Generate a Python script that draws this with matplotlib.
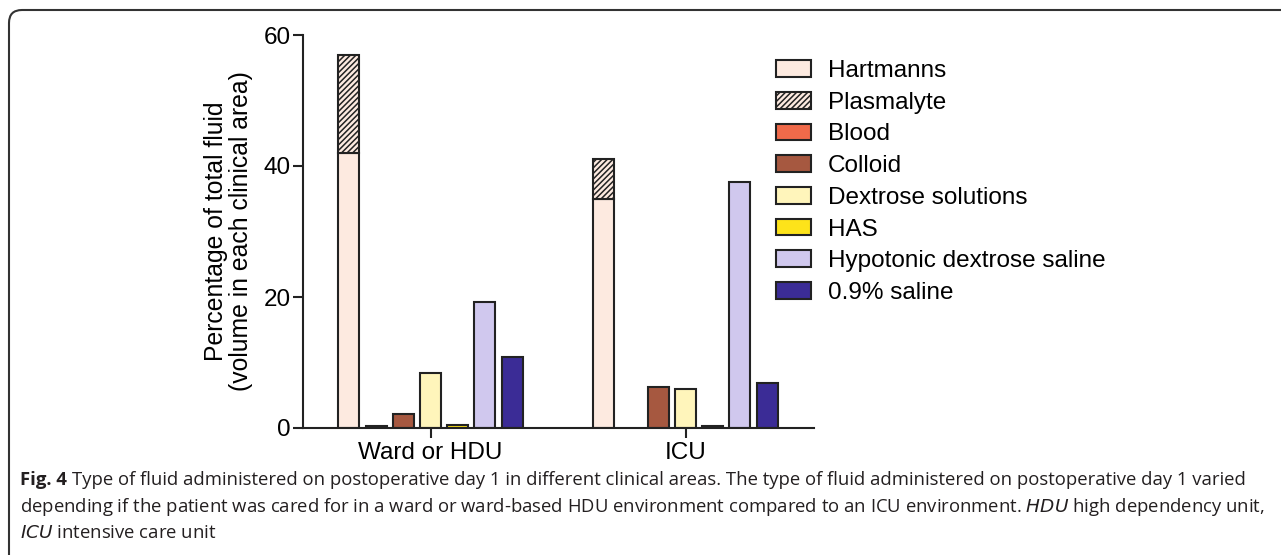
import matplotlib.pyplot as plt
from matplotlib.patches import FancyBboxPatch
import numpy as np

# data (% of total fluid volume)
areas = ["Ward or HDU", "ICU"]
fluids = ["Hartmanns", "Plasmalyte", "Blood", "Colloid", "Dextrose solutions",
          "HAS", "Hypotonic dextrose saline", "0.9% saline"]
hartmanns = [42.0, 35.0]
plasmalyte = [15.0, 6.0]
blood = [0.3, 0.0]
colloid = [2.1, 6.3]
dextrose = [8.4, 5.9]
has = [0.45, 0.3]
hypotonic = [19.3, 37.5]
saline = [10.9, 6.8]

colors = ["#fdeae0", "#fdeae0", "#f06a4a", "#a65840", "#fff5bb",
          "#fde31a", "#d0c8ee", "#3b2c96"]

plt.rcParams["font.family"] = ["Liberation Sans", "DejaVu Sans"]
plt.rcParams["hatch.linewidth"] = 1.1

fig = plt.figure(figsize=(12.81, 5.55), dpi=100)

# rounded frame of the figure panel (runs off the right and bottom edges)
frame = FancyBboxPatch((0.09, -0.5), 14.0, 5.95, boxstyle="round,pad=0,rounding_size=0.13",
                       transform=fig.dpi_scale_trans, facecolor="none",
                       edgecolor="#333333", linewidth=1.5, zorder=0)
fig.patches.append(frame)

ax = fig.add_axes([303 / 1281, 1 - 428 / 555, (814 - 303) / 1281, (428 - 35) / 555])

centers = np.array([0.0, 9.375])
w = 0.77
ec = "#222222"
lw = 1.5

ax.bar(centers - 3, hartmanns, w, color=colors[0], edgecolor=ec, linewidth=lw, label=fluids[0])
ax.bar(centers - 3, plasmalyte, w, bottom=hartmanns, color=colors[1], edgecolor=ec,
       linewidth=lw, hatch="//////", label=fluids[1])
series = [blood, colloid, dextrose, has, hypotonic, saline]
for i, vals in enumerate(series):
    vals = np.array(vals)
    pos = centers - 2 + i
    mask = vals > 0
    ax.bar(pos[mask], vals[mask], w, color=colors[i + 2], edgecolor=ec, linewidth=lw,
           label=fluids[i + 2])

ax.set_xlim(-4.69, 14.1)
ax.set_ylim(0, 60)
ax.set_yticks([0, 20, 40, 60])
ax.set_xticks(centers)
ax.set_xticklabels(areas)
ax.tick_params(axis="both", labelsize=17.5, width=1.5, length=7, color="#222222")
ax.tick_params(axis="x", pad=3)
ax.tick_params(axis="y", pad=2)
for s in ["top", "right"]:
    ax.spines[s].set_visible(False)
for s in ["left", "bottom"]:
    ax.spines[s].set_linewidth(1.5)
    ax.spines[s].set_color("#222222")

ax.set_ylabel("Percentage of total fluid\n(volume in each clinical area)", fontsize=17.8,
              linespacing=1.05)
ax.yaxis.set_label_coords(-0.098, 0.5)

fig.legend(loc="upper left", bbox_to_anchor=(776 / 1281, 1 - 60 / 555), frameon=False,
           fontsize=17.5, handlelength=1.42, handleheight=0.68, handletextpad=0.72,
           labelspacing=0.40, borderpad=0, borderaxespad=0)

# caption
cap_font = ["Open Sans", "DejaVu Sans"]
cap_size = 13.3
cap_color = "#231f20"
cx = 20 / 1281
fig.canvas.draw()
renderer = fig.canvas.get_renderer()
fig_lbl = fig.text(cx, 1 - 480 / 555, "Fig. 4 ", fontsize=cap_size, family=cap_font,
                   weight="bold", va="center", color=cap_color)
lbl_w = fig_lbl.get_window_extent(renderer).width / fig.bbox.width
fig.text(cx + lbl_w, 1 - 480 / 555,
         "Type of fluid administered on postoperative day 1 in different clinical areas. "
         "The type of fluid administered on postoperative day 1 varied",
         fontsize=cap_size, family=cap_font, va="center", color=cap_color)
fig.text(cx, 1 - 507 / 555,
         "depending if the patient was cared for in a ward or ward-based HDU environment "
         "compared to an ICU environment. $\\it{HDU}$ high dependency unit,",
         fontsize=cap_size, family=cap_font, va="center", color=cap_color)
fig.text(cx, 1 - 533 / 555, "$\\it{ICU}$ intensive care unit", fontsize=cap_size,
         family=cap_font, va="center", color=cap_color)

fig.savefig("out.png", dpi=100)
